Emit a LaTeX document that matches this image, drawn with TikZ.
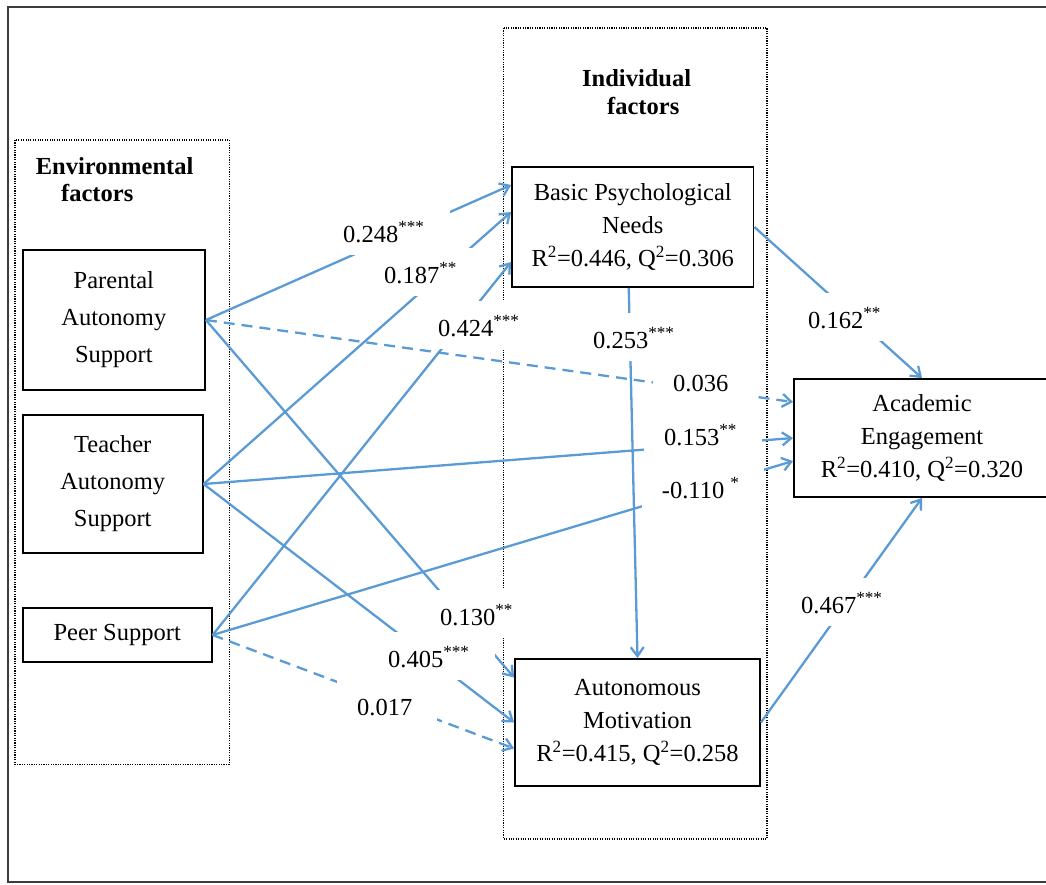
\documentclass[tikz,border=0pt]{standalone}
\usepackage{fontspec}
\setmainfont{Liberation Serif}
\usetikzlibrary{arrows.meta}
\definecolor{pathblue}{RGB}{91,155,213}
\definecolor{framegray}{RGB}{60,60,60}
\newcommand{\coeflabel}[4]{\node[lbl] (#1) at ({#2-20},#3) {\hspace*{20pt}#4\hspace*{25pt}};}
\begin{document}
\begin{tikzpicture}[x=1pt,y=-1pt,
  every node/.style={font=\fontsize{24.5}{33}\selectfont},
  varbox/.style={draw=black, line width=1.8pt, fill=white, inner sep=0pt, align=center},
  widebox/.style={varbox, font=\fontsize{24.5}{37}\selectfont},
  head/.style={font=\fontsize{24.5}{28}\selectfont\bfseries, inner sep=0pt, anchor=base west},
  grpbox/.style={draw=black, line width=1.1pt, dash pattern=on 1.1pt off 1.3pt},
  conn/.style={draw=pathblue, line width=2.3pt, -{Straight Barb[length=9pt,width=13pt]}},
  dashconn/.style={conn, dash pattern=on 11pt off 7pt},
  lbl/.style={fill=white, inner sep=0pt, text height=35pt, text depth=13pt, anchor=base west}
]
\useasboundingbox (0,0) rectangle (1046,884);
\clip (0,0) rectangle (1046,884);
\draw[framegray, line width=2pt] (8,7) rectangle (1060,882);
\draw[grpbox] (15,140) rectangle (229.3,764.3);
\draw[grpbox] (503.5,28) rectangle (767,839);

\node[head] (envA) at (35.7,174) {Environmental};
\node[head] (envB) at (61,201.7) {factors};
\node[head] (indA) at (582,86) {Individual};
\node[head] (indB) at (607,114) {factors};

\node[widebox, minimum width=182.3pt, minimum height=140pt] (PAS) at (113.85,320) {Parental\\Autonomy\\Support};
\node[widebox, minimum width=180pt, minimum height=138pt] (TAS) at (112.7,484) {Teacher\\Autonomy\\Support};
\node[varbox, minimum width=189pt, minimum height=54pt] (PS) at (117.2,635) {Peer Support};
\node[varbox, minimum width=241.5pt, minimum height=120pt] (BPN) at (632.75,227) {Basic Psychological\\Needs\\R\textsuperscript{2}=0.446, Q\textsuperscript{2}=0.306};
\node[varbox, minimum width=245pt, minimum height=127pt] (AM) at (637.5,722.5) {Autonomous\\Motivation\\R\textsuperscript{2}=0.415, Q\textsuperscript{2}=0.258};
\node[varbox, minimum width=256pt, minimum height=118pt] (AE) at (922,438) {Academic\\Engagement\\R\textsuperscript{2}=0.410, Q\textsuperscript{2}=0.320};

\draw[conn] (PAS.east) -- ([yshift=42pt]BPN.west);
\draw[conn] (TAS.east) -- ([yshift=15pt]BPN.west);
\draw[conn] (PS.east) -- ([yshift=-35pt]BPN.west);
\draw[dashconn] (PAS.east) -- ([yshift=36pt]AE.west);
\draw[conn] (TAS.east) -- (AE.west);
\draw[conn] (PS.east) -- ([yshift=-23pt]AE.west);
\draw[conn] ([xshift=-4pt]BPN.south) -- (AM.north);
\draw[conn] (PAS.east) -- ([yshift=45pt]AM.west);
\draw[conn] (TAS.east) -- (AM.west);
\draw[dashconn] (PS.east) -- ([yshift=-26pt]AM.west);
\draw[conn] (BPN.east) -- (AE.north);
\draw[conn] (AM.east) -- (AE.south);

\coeflabel{k1}{343}{242}{0.248\textsuperscript{***}}
\coeflabel{k2}{384}{283}{0.187\textsuperscript{**}}
\coeflabel{k3}{438}{336}{0.424\textsuperscript{***}}
\coeflabel{k4}{673}{391}{0.036}
\coeflabel{k5}{664}{445}{0.153\textsuperscript{**}}
\coeflabel{k6}{661.7}{498}{-0.110 \textsuperscript{*}}
\coeflabel{k7}{593}{348}{0.253\textsuperscript{***}}
\coeflabel{k8}{440}{625}{0.130\textsuperscript{**}}
\coeflabel{k9}{388}{667}{0.405\textsuperscript{***}}
\coeflabel{k10}{357}{715}{0.017}
\coeflabel{k11}{808}{328}{0.162\textsuperscript{**}}
\coeflabel{k12}{801}{613}{0.467\textsuperscript{***}}
\end{tikzpicture}
\end{document}
